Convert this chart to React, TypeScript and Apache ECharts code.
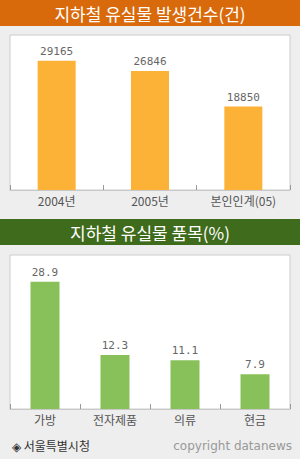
import React, { useEffect, useRef } from "react";
import * as echarts from "echarts";

const yearCategories = ["2004년", "2005년", "본인인계(05)"];
const yearValues = [29165, 26846, 18850];
const itemCategories = ["가방", "전자제품", "의류", "현금"];
const itemValues = [28.9, 12.3, 11.1, 7.9];
const title1 = "지하철 유실물 발생건수(건)";
const title2 = "지하철 유실물 품목(%)";
const sourceText = "◈ 서울특별시청";
const copyrightText = "copyright datanews";

const KR = "'Noto Sans CJK KR', 'Noto Sans', sans-serif";
const MONO = "'DejaVu Sans Mono', monospace";

export default function App() {
  const ref = useRef<HTMLDivElement>(null);
  useEffect(() => {
    document.body.style.margin = "0";
    const chart = echarts.init(ref.current!, undefined, { renderer: "svg" });
    const xAxisCommon = {
      type: "category" as const,
      axisLine: { show: true, lineStyle: { color: "#c8c8c8", width: 1 } },
      axisTick: { show: true, inside: true, length: 5, lineStyle: { color: "#999" } },
      axisLabel: { color: "#555", fontSize: 12, fontFamily: KR, margin: 4 },
    };
    const yAxisCommon = {
      type: "value" as const,
      min: 0,
      show: false,
      splitLine: { show: false },
    };
    chart.setOption({
      animation: false,
      backgroundColor: "#eeeeee",
      grid: [
        { left: 10, top: 35, width: 280, height: 155, show: true, backgroundColor: "#fff", borderColor: "#cccccc", borderWidth: 1 },
        { left: 10, top: 255, width: 280, height: 154, show: true, backgroundColor: "#fff", borderColor: "#cccccc", borderWidth: 1 },
      ],
      xAxis: [
        { ...xAxisCommon, gridIndex: 0, data: yearCategories },
        { ...xAxisCommon, gridIndex: 1, data: itemCategories },
      ],
      yAxis: [
        { ...yAxisCommon, gridIndex: 0, max: 35000 },
        { ...yAxisCommon, gridIndex: 1, max: 35 },
      ],
      series: [
        {
          type: "bar",
          xAxisIndex: 0,
          yAxisIndex: 0,
          data: yearValues,
          barWidth: 38,
          itemStyle: { color: "#fbb236" },
          label: { show: true, position: "top", distance: 4, color: "#666", fontSize: 11, fontFamily: MONO },
        },
        {
          type: "bar",
          xAxisIndex: 1,
          yAxisIndex: 1,
          data: itemValues,
          barWidth: 29,
          itemStyle: { color: "#88c159" },
          label: { show: true, position: "top", distance: 4, color: "#666", fontSize: 11, fontFamily: MONO },
        },
      ],
      graphic: [
        { type: "rect", left: 0, top: 0, shape: { width: 300, height: 26 }, style: { fill: "#d96a0b" } },
        {
          type: "text",
          x: 150,
          y: 13,
          style: { text: title1, fill: "#fff", fontSize: 17, fontFamily: KR, align: "center", verticalAlign: "middle" },
        },
        { type: "rect", left: 0, top: 219, shape: { width: 300, height: 26 }, style: { fill: "#3f6b1c" } },
        {
          type: "text",
          x: 150,
          y: 232,
          style: { text: title2, fill: "#fff", fontSize: 17, fontFamily: KR, align: "center", verticalAlign: "middle" },
        },
        {
          type: "text",
          x: 12,
          y: 445,
          style: { text: sourceText, fill: "#333", fontSize: 12, fontFamily: KR, align: "left", verticalAlign: "middle" },
        },
        {
          type: "text",
          x: 292,
          y: 446,
          style: { text: copyrightText, fill: "#999", fontSize: 12, fontFamily: "'DejaVu Sans', sans-serif", align: "right", verticalAlign: "middle" },
        },
      ],
    });
    return () => chart.dispose();
  }, []);
  return <div ref={ref} style={{ position: "absolute", left: 0, top: 0, width: 300, height: 459 }} />;
}
